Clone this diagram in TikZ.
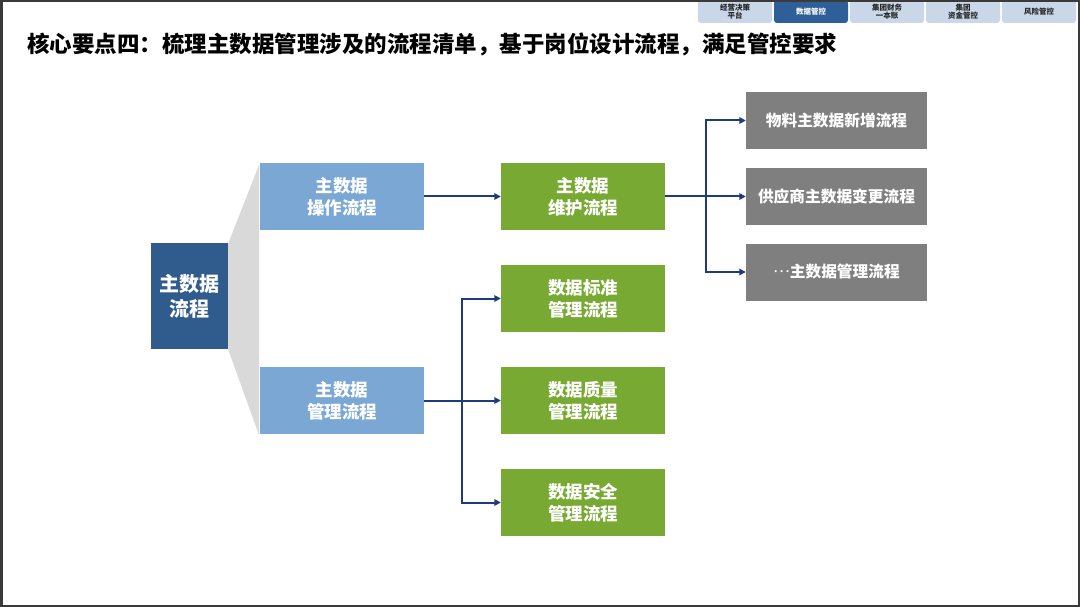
\documentclass[tikz,border=0pt]{standalone}
\usepackage{fontspec}
\setmainfont{Noto Sans CJK SC}
\usetikzlibrary{arrows.meta}
\definecolor{navyline}{HTML}{1F3B7E}
\definecolor{maindark}{HTML}{2F5C8C}
\definecolor{lightblue}{HTML}{7BA7D5}
\definecolor{greenbox}{HTML}{78AA33}
\definecolor{graybox}{HTML}{7F7F7F}
\definecolor{trapgray}{HTML}{D9D9D9}
\definecolor{tabfill}{HTML}{C9D7E9}
\definecolor{tabactive}{HTML}{2F5F98}
\definecolor{framecol}{HTML}{3A3A3A}
\tikzset{
  boxbase/.style={draw=none, inner sep=0pt, align=center, text=white},
  mainbox/.style={boxbase, fill=maindark, minimum width=77pt, minimum height=106pt, font=\fontsize{20}{25}\selectfont\bfseries},
  bluebox/.style={boxbase, fill=lightblue, minimum width=164pt, minimum height=67pt, font=\fontsize{17.5}{22}\selectfont\bfseries},
  greenbx/.style={boxbase, fill=greenbox, minimum width=164pt, minimum height=67pt, font=\fontsize{17.5}{22}\selectfont\bfseries},
  graybx/.style={boxbase, fill=graybox, minimum width=181pt, minimum height=57pt, font=\fontsize{15.7}{20}\selectfont\bfseries},
  tabbox/.style={fill=tabfill, rounded corners=3pt, minimum width=74pt, minimum height=23pt, inner sep=0pt, align=center, text=black!85, font=\fontsize{7.5}{8.5}\selectfont\bfseries},
  tabon/.style={tabbox, fill=tabactive, text=white},
  conn/.style={draw=navyline, line width=2pt},
  arr/.style={conn, -{Triangle[length=6.5pt,width=6.5pt]}},
}
\begin{document}
\begin{tikzpicture}[x=1pt,y=-1pt]
\useasboundingbox (0,0) rectangle (1080,607);
\fill[white] (0,0) rectangle (1080,607);

% tabs
\node[tabbox] (t1) at (735,11.5) {经营决策\\平台};
\node[tabon]  (t2) at (811,11.5) {数据管控};
\node[tabbox] (t3) at (887,11.5) {集团财务\\一本账};
\node[tabbox] (t4) at (963,11.5) {集团\\资金管控};
\node[tabbox] (t5) at (1039,11.5) {风险管控};

% title
\node[anchor=west, inner sep=0pt, font=\fontsize{22.5}{26}\selectfont\bfseries] (title) at (27,44)
  {核心要点四：梳理主数据管理涉及的流程清单，基于岗位设计流程，满足管控要求};

% trapezoid
\fill[trapgray] (228,244) -- (259,165) -- (259,435) -- (228,349) -- cycle;

% nodes
\node[mainbox] (main) at (189.5,296) {主数据\\流程};
\node[bluebox] (op) at (342,196.5) {主数据\\操作流程};
\node[bluebox] (mg) at (342,400.5) {主数据\\管理流程};
\node[greenbx] (wh) at (583,196.5) {主数据\\维护流程};
\node[greenbx] (bz) at (583,298.5) {数据标准\\管理流程};
\node[greenbx] (zl) at (583,400.5) {数据质量\\管理流程};
\node[greenbx] (aq) at (583,502.5) {数据安全\\管理流程};
\node[graybx] (g1) at (836.5,120.5) {物料主数据新增流程};
\node[graybx] (g2) at (836.5,196.5) {供应商主数据变更流程};
\node[graybx] (g3) at (836.5,272) {\raisebox{0.32em}{\mdseries …}主数据管理流程};

% connectors
\draw[arr] (op.east) -- (wh.west);
\coordinate (j1) at (706,196.5);
\draw[conn] (wh.east) -- (j1);
\draw[arr] (j1) |- (g1);
\draw[arr] (j1) -- (g2.west);
\draw[arr] (j1) |- (g3);
\coordinate (j2) at (462,400.5);
\draw[conn] (mg.east) -- (j2);
\draw[arr] (j2) |- (bz);
\draw[arr] (j2) -- (zl.west);
\draw[arr] (j2) |- (aq);

% frame
\draw[framecol, line width=2.5pt] (1.25,1.25) rectangle (1078.75,605.75);
\end{tikzpicture}
\end{document}
